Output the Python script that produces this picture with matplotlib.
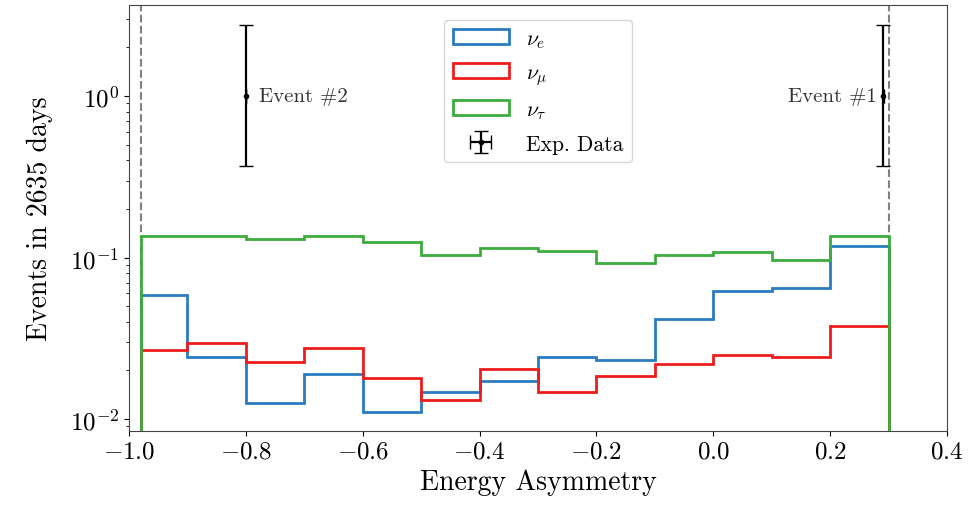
import numpy as np
import matplotlib
matplotlib.use("Agg")
import matplotlib.pyplot as plt

plt.rcParams['font.family'] = 'serif'
plt.rcParams['font.serif'] = ['cmr10']
plt.rcParams['mathtext.fontset'] = 'cm'
plt.rcParams['axes.formatter.use_mathtext'] = True

# bin edges and per-bin expected events
edges = [-0.98, -0.9, -0.8, -0.7, -0.6, -0.5, -0.4, -0.3, -0.2, -0.1, 0.0, 0.1, 0.2, 0.3]
nu_e = [0.0586, 0.0241, 0.0125, 0.0190, 0.0111, 0.0148, 0.0172, 0.0241, 0.0232,
        0.0416, 0.0618, 0.0650, 0.118]
nu_mu = [0.0267, 0.0296, 0.0226, 0.0274, 0.0179, 0.0131, 0.0203, 0.0148, 0.0185,
         0.0220, 0.0250, 0.0243, 0.0378]
nu_tau = [0.1365, 0.1365, 0.1307, 0.1365, 0.124, 0.104, 0.114, 0.110, 0.092,
          0.104, 0.109, 0.0966, 0.1365]

# observed events
ev_x = [0.291, -0.80]
ev_y = [1.0, 1.0]
ev_lo = [0.37, 0.37]
ev_hi = [2.76, 2.76]
ev_names = ['Event #1', 'Event #2']

centers = 0.5 * (np.array(edges[:-1]) + np.array(edges[1:]))

fig = plt.figure(figsize=(9.79, 5.10), dpi=100)
ax = fig.add_axes([0.1318, 0.153, 0.8355, 0.835])

ax.hist(centers, bins=edges, weights=nu_e, histtype='step', lw=2,
        color='#2a7bbf', label=r'$\nu_e$')
ax.hist(centers, bins=edges, weights=nu_mu, histtype='step', lw=2,
        color='#ee1c1c', label=r'$\nu_\mu$')
ax.hist(centers, bins=edges, weights=nu_tau, histtype='step', lw=2,
        color='#3cac3c', label=r'$\nu_\tau$')

for xv in (edges[0], edges[-1]):
    ax.axvline(xv, color='gray', ls='--', lw=1.5, zorder=0.5)

yerr = [np.array(ev_y) - np.array(ev_lo), np.array(ev_hi) - np.array(ev_y)]
ax.errorbar(ev_x, ev_y, yerr=yerr, xerr=0.0005, fmt='.', color='black',
            ms=6, lw=1.6, capsize=5, label='Exp. Data')

ax.text(ev_x[0] - 0.012, ev_y[0], ev_names[0], ha='right', va='center', fontsize=15, color='#333333')
ax.text(ev_x[1] + 0.022, ev_y[1], ev_names[1], ha='left', va='center', fontsize=15, color='#333333')

ax.set_yscale('log')
ax.set_xlim(-1.0, 0.4)
ax.set_ylim(0.00843, 3.66)
ax.set_xlabel('Energy Asymmetry', fontsize=20)
ax.set_ylabel('Events in 2635 days', fontsize=20, labelpad=12)
ax.tick_params(labelsize=18)
for s in ax.spines.values():
    s.set_color('#444444')

ax.legend(loc='upper center', fontsize=15.5, handlelength=2.6, labelspacing=0.6,
          bbox_to_anchor=(0.5, 0.99))

fig.savefig('out.png', dpi=100)
